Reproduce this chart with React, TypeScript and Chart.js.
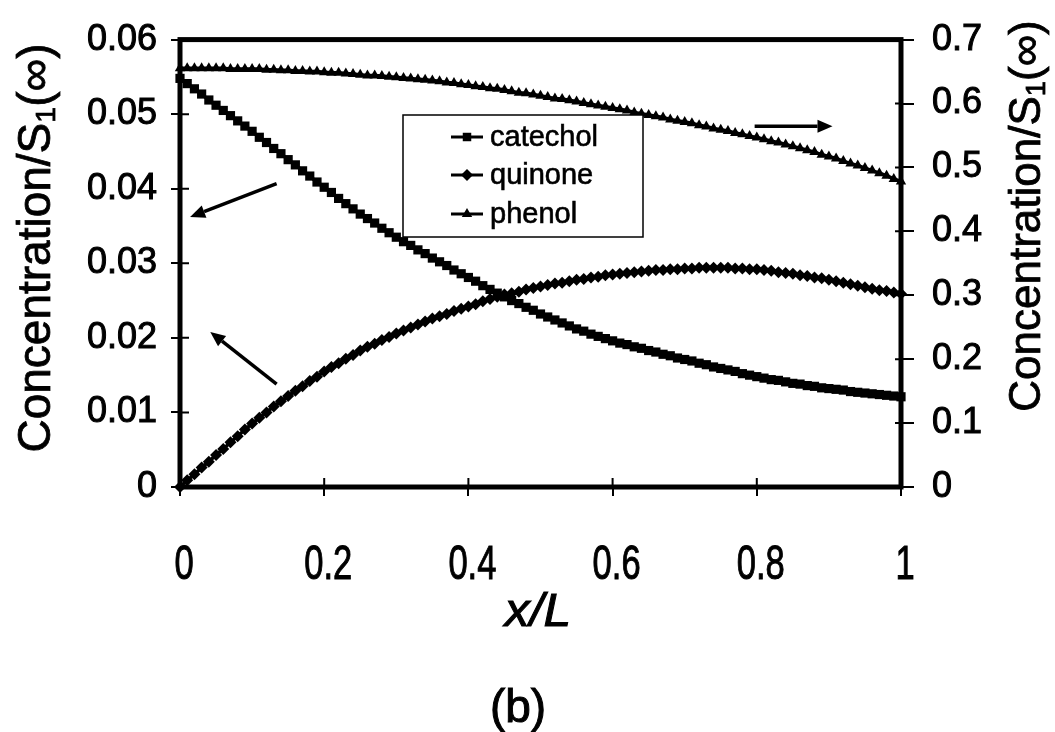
import React, { useEffect, useRef } from "react";
import { Chart, registerables } from "chart.js";

Chart.register(...registerables);

const xs = [
  0, 0.01, 0.02, 0.03, 0.04, 0.05, 0.06, 0.07, 0.08, 0.09,
  0.1, 0.11, 0.12, 0.13, 0.14, 0.15, 0.16, 0.17, 0.18, 0.19,
  0.2, 0.21, 0.22, 0.23, 0.24, 0.25, 0.26, 0.27, 0.28, 0.29,
  0.3, 0.31, 0.32, 0.33, 0.34, 0.35, 0.36, 0.37, 0.38, 0.39,
  0.4, 0.41, 0.42, 0.43, 0.44, 0.45, 0.46, 0.47, 0.48, 0.49,
  0.5, 0.51, 0.52, 0.53, 0.54, 0.55, 0.56, 0.57, 0.58, 0.59,
  0.6, 0.61, 0.62, 0.63, 0.64, 0.65, 0.66, 0.67, 0.68, 0.69,
  0.7, 0.71, 0.72, 0.73, 0.74, 0.75, 0.76, 0.77, 0.78, 0.79,
  0.8, 0.81, 0.82, 0.83, 0.84, 0.85, 0.86, 0.87, 0.88, 0.89,
  0.9, 0.91, 0.92, 0.93, 0.94, 0.95, 0.96, 0.97, 0.98, 0.99,
  1.0,
];

const catechol = [
  0.0548, 0.0541, 0.0534, 0.0527, 0.0519, 0.0512, 0.0505, 0.0498, 0.0491, 0.0484,
  0.0477, 0.0469, 0.0462, 0.0454, 0.0447, 0.0439, 0.0432, 0.0424, 0.0417, 0.0409,
  0.0402, 0.0395, 0.0387, 0.038, 0.0373, 0.0366, 0.036, 0.0354, 0.0347, 0.0341,
  0.0335, 0.0329, 0.0324, 0.0318, 0.0313, 0.0307, 0.0302, 0.0297, 0.0291, 0.0286,
  0.0281, 0.0276, 0.027, 0.0265, 0.026, 0.0255, 0.025, 0.0246, 0.0241, 0.0237,
  0.0232, 0.0228, 0.0224, 0.022, 0.0216, 0.0212, 0.0209, 0.0205, 0.0202, 0.0199,
  0.0196, 0.0193, 0.0191, 0.0188, 0.0186, 0.0183, 0.0181, 0.0178, 0.0176, 0.0173,
  0.0171, 0.0169, 0.0166, 0.0164, 0.0161, 0.0159, 0.0157, 0.0155, 0.0152, 0.015,
  0.0148, 0.0146, 0.0144, 0.0143, 0.0141, 0.0139, 0.0138, 0.0136, 0.0135, 0.0133,
  0.0132, 0.0131, 0.013, 0.0128, 0.0127, 0.0126, 0.0125, 0.0124, 0.0123, 0.0122,
  0.0121,
];

const quinone = [
  0, 0.0009, 0.0017, 0.0026, 0.0034, 0.0043, 0.0051, 0.006, 0.0068, 0.0077,
  0.0085, 0.0093, 0.01, 0.0108, 0.0115, 0.0122, 0.0129, 0.0135, 0.0142, 0.0148,
  0.0155, 0.0161, 0.0166, 0.0172, 0.0177, 0.0183, 0.0188, 0.0192, 0.0197, 0.0201,
  0.0206, 0.021, 0.0214, 0.0218, 0.0222, 0.0226, 0.0229, 0.0232, 0.0236, 0.0239,
  0.0242, 0.0245, 0.0249, 0.0252, 0.0255, 0.0258, 0.026, 0.0262, 0.0265, 0.0267,
  0.0269, 0.0271, 0.0273, 0.0274, 0.0276, 0.0278, 0.0279, 0.0281, 0.0282, 0.0284,
  0.0285, 0.0286, 0.0287, 0.0288, 0.0289, 0.029, 0.0291, 0.0291, 0.0292, 0.0292,
  0.0293, 0.0293, 0.0294, 0.0294, 0.0294, 0.0294, 0.0294, 0.0293, 0.0293, 0.0292,
  0.0292, 0.0291, 0.029, 0.0288, 0.0287, 0.0286, 0.0284, 0.0283, 0.0281, 0.028,
  0.0278, 0.0276, 0.0274, 0.0272, 0.027, 0.0268, 0.0266, 0.0264, 0.0263, 0.0261,
  0.0259,
];

const phenol = [
  0.655, 0.655, 0.655, 0.655, 0.655, 0.655, 0.655, 0.654, 0.654, 0.654,
  0.654, 0.654, 0.653, 0.653, 0.652, 0.652, 0.651, 0.651, 0.65, 0.65,
  0.649, 0.648, 0.648, 0.647, 0.646, 0.645, 0.644, 0.644, 0.643, 0.642,
  0.641, 0.64, 0.639, 0.638, 0.637, 0.636, 0.635, 0.633, 0.632, 0.63,
  0.629, 0.627, 0.626, 0.624, 0.623, 0.621, 0.619, 0.617, 0.616, 0.614,
  0.612, 0.61, 0.608, 0.607, 0.605, 0.603, 0.601, 0.599, 0.597, 0.595,
  0.593, 0.591, 0.589, 0.586, 0.584, 0.582, 0.58, 0.578, 0.575, 0.573,
  0.571, 0.569, 0.566, 0.564, 0.561, 0.559, 0.557, 0.554, 0.552, 0.549,
  0.547, 0.544, 0.541, 0.539, 0.536, 0.533, 0.53, 0.527, 0.524, 0.52,
  0.517, 0.514, 0.51, 0.506, 0.503, 0.499, 0.495, 0.491, 0.487, 0.482,
  0.478,
];

const seriesLabels = ["catechol", "quinone", "phenol"];
const xTickStep = 0.2;
const leftTickStep = 0.01;
const rightTickStep = 0.1;

// annotation arrows in data coordinates: [x0, y0, x1, y1, axis]
const arrows: [number, number, number, number, string][] = [
  [0.134, 0.0407, 0.014, 0.0362, "y"],
  [0.134, 0.0138, 0.042, 0.0208, "y"],
  [0.797, 0.5646, 0.905, 0.5646, "y1"],
];

const FONT = "'Liberation Sans', Arial, sans-serif";

function drawTitleRotated(ctx: CanvasRenderingContext2D, cx: number, cy: number, size: number) {
  const runs = [
    { t: "Concentration/S", s: size, dy: 0 },
    { t: "1", s: size * 0.62, dy: size * 0.22 },
    { t: "(\u221E)", s: size, dy: 0 },
  ];
  ctx.save();
  ctx.translate(cx, cy);
  ctx.rotate(-Math.PI / 2);
  ctx.fillStyle = "#000";
  ctx.textBaseline = "middle";
  ctx.textAlign = "left";
  let total = 0;
  for (const r of runs) {
    ctx.font = `${r.s}px ${FONT}`;
    total += ctx.measureText(r.t).width;
  }
  let x = -total / 2;
  for (const r of runs) {
    ctx.font = `${r.s}px ${FONT}`;
    ctx.fillText(r.t, x, r.dy);
    ctx.strokeStyle = "#000";
    ctx.lineWidth = 0.8;
    ctx.strokeText(r.t, x, r.dy);
    x += ctx.measureText(r.t).width;
  }
  ctx.restore();
}

function drawMarker(ctx: CanvasRenderingContext2D, style: string, x: number, y: number, r: number) {
  ctx.beginPath();
  if (style === "rect") {
    const s = r * Math.SQRT1_2;
    ctx.rect(x - s, y - s, 2 * s, 2 * s);
  } else if (style === "rectRot") {
    ctx.moveTo(x, y - r);
    ctx.lineTo(x + r, y);
    ctx.lineTo(x, y + r);
    ctx.lineTo(x - r, y);
    ctx.closePath();
  } else {
    ctx.moveTo(x, y - r);
    ctx.lineTo(x + r * 0.866, y + r * 0.5);
    ctx.lineTo(x - r * 0.866, y + r * 0.5);
    ctx.closePath();
  }
  ctx.fill();
}

const decorPlugin = {
  id: "decor",
  beforeDatasetsDraw(chart: any) {
    const { ctx, chartArea } = chart;
    const sx = chart.scales.x;
    const yl = chart.scales.y;
    const yr = chart.scales.y1;
    ctx.save();
    ctx.strokeStyle = "#000";
    ctx.lineWidth = 2;
    ctx.beginPath();
    sx.ticks.forEach((t: any) => {
      const px = sx.getPixelForValue(t.value);
      ctx.moveTo(px, chartArea.bottom);
      ctx.lineTo(px, chartArea.bottom - 9);
    });
    yl.ticks.forEach((t: any) => {
      const py = yl.getPixelForValue(t.value);
      ctx.moveTo(chartArea.left, py);
      ctx.lineTo(chartArea.left + 9, py);
    });
    yr.ticks.forEach((t: any) => {
      const py = yr.getPixelForValue(t.value);
      ctx.moveTo(chartArea.right, py);
      ctx.lineTo(chartArea.right - 6, py);
    });
    ctx.stroke();
    ctx.lineWidth = 5;
    ctx.strokeRect(chartArea.left, chartArea.top, chartArea.right - chartArea.left, chartArea.bottom - chartArea.top);
    ctx.lineWidth = 3.5;
    ctx.fillStyle = "#000";
    arrows.forEach(([x0, y0, x1, y1, ax]) => {
      const sy = chart.scales[ax];
      const p0x = sx.getPixelForValue(x0);
      const p0y = sy.getPixelForValue(y0);
      const p1x = sx.getPixelForValue(x1);
      const p1y = sy.getPixelForValue(y1);
      const ang = Math.atan2(p1y - p0y, p1x - p0x);
      const hl = 15;
      const hw = 6.5;
      const bx = p1x - hl * Math.cos(ang);
      const by = p1y - hl * Math.sin(ang);
      ctx.beginPath();
      ctx.moveTo(p0x, p0y);
      ctx.lineTo(bx, by);
      ctx.stroke();
      ctx.beginPath();
      ctx.moveTo(p1x, p1y);
      ctx.lineTo(bx + hw * Math.sin(ang), by - hw * Math.cos(ang));
      ctx.lineTo(bx - hw * Math.sin(ang), by + hw * Math.cos(ang));
      ctx.closePath();
      ctx.fill();
    });
    ctx.restore();
  },
  afterDraw(chart: any) {
    const { ctx } = chart;
    const sx = chart.scales.x;
    ctx.save();
    ctx.fillStyle = "#000";
    ctx.strokeStyle = "#000";
    ctx.lineWidth = 1;
    // condensed x tick labels, taken from the x scale's ticks
    ctx.font = `48px ${FONT}`;
    ctx.textAlign = "center";
    ctx.textBaseline = "middle";
    sx.ticks.forEach((t: any) => {
      const px = sx.getPixelForValue(t.value) + 4;
      ctx.save();
      ctx.translate(px, 566);
      ctx.scale(0.72, 1);
      ctx.fillText(String(t.label), 0, 0);
      ctx.strokeText(String(t.label), 0, 0);
      ctx.restore();
    });
    drawTitleRotated(ctx, 37, 248, 46);
    drawTitleRotated(ctx, 1028, 216, 44);
    ctx.fillStyle = "#000";
    ctx.textAlign = "center";
    ctx.textBaseline = "middle";
    ctx.save();
    ctx.translate(538, 613);
    ctx.scale(1.08, 1);
    ctx.font = `italic 46px ${FONT}`;
    ctx.fillText("x/L", 0, 0);
    ctx.strokeText("x/L", 0, 0);
    ctx.restore();
    ctx.font = `46px ${FONT}`;
    ctx.fillText("(b)", 518, 709);
    ctx.strokeText("(b)", 518, 709);
    // legend
    const bx = 403, by = 115, bw = 240, bh = 122;
    ctx.lineWidth = 1.5;
    ctx.strokeStyle = "#000";
    ctx.fillStyle = "#fff";
    ctx.fillRect(bx, by, bw, bh);
    ctx.strokeRect(bx, by, bw, bh);
    const rows = [137, 175, 214];
    chart.data.datasets.forEach((ds: any, i: number) => {
      const y = rows[i];
      ctx.strokeStyle = "#000";
      ctx.lineWidth = 3;
      ctx.beginPath();
      ctx.moveTo(451, y);
      ctx.lineTo(483, y);
      ctx.stroke();
      ctx.fillStyle = "#000";
      drawMarker(ctx, ds.pointStyle, 467, y, 6);
      ctx.font = `29px ${FONT}`;
      ctx.textAlign = "left";
      ctx.textBaseline = "middle";
      ctx.lineWidth = 0.6;
      ctx.fillText(ds.label, 490, y + 1);
      ctx.strokeText(ds.label, 490, y + 1);
    });
    ctx.restore();
  },
};

export default function App() {
  const ref = useRef<HTMLCanvasElement | null>(null);
  useEffect(() => {
    if (!ref.current) return;
    const mk = (vals: number[]) => vals.map((v, i) => ({ x: xs[i], y: v }));
    const common = {
      borderColor: "#000",
      backgroundColor: "#000",
      pointBackgroundColor: "#000",
      pointBorderColor: "#000",
      borderWidth: 3.5,
      pointRadius: 6,
      pointBorderWidth: 0,
      tension: 0,
      clip: false as any,
    };
    const chart = new Chart(ref.current, {
      type: "line",
      data: {
        datasets: [
          { ...common, label: seriesLabels[0], data: mk(catechol), pointStyle: "rect", pointRadius: 6.5, yAxisID: "y" },
          { ...common, label: seriesLabels[1], data: mk(quinone), pointStyle: "rectRot", yAxisID: "y" },
          { ...common, label: seriesLabels[2], data: mk(phenol), pointStyle: "triangle", yAxisID: "y1" },
        ],
      },
      options: {
        animation: false,
        responsive: false,
        layout: { padding: { top: 30, left: 0, right: 0, bottom: 0 } },
        plugins: { legend: { display: false }, tooltip: { enabled: false } },
        scales: {
          x: {
            type: "linear",
            min: 0,
            max: 1,
            border: { display: false },
            grid: { drawOnChartArea: false, drawTicks: true, tickLength: 9, color: "#000", lineWidth: 2 },
            ticks: {
              stepSize: xTickStep,
              display: false,
              callback: (v: any) => String(Math.round(Number(v) * 10) / 10),
            },
            afterFit: (s: any) => { s.height = 245; },
          },
          y: {
            type: "linear",
            position: "left",
            min: 0,
            max: 0.06,
            border: { display: false },
            grid: { drawOnChartArea: false, drawTicks: true, tickLength: 9, color: "#000", lineWidth: 2 },
            ticks: {
              stepSize: leftTickStep,
              color: "#000",
              padding: 14,
              font: { family: FONT, size: 36 },
              textStrokeColor: "#000",
              textStrokeWidth: 1,
              callback: (v: any) => String(Number(Number(v).toFixed(2))),
            } as any,
            afterFit: (s: any) => { s.width = 180; },
          },
          y1: {
            type: "linear",
            position: "right",
            min: 0,
            max: 0.7,
            border: { display: false },
            grid: { drawOnChartArea: false, drawTicks: true, tickLength: 13, color: "#000", lineWidth: 2 },
            ticks: {
              stepSize: rightTickStep,
              color: "#000",
              padding: 18,
              font: { family: FONT, size: 36 },
              textStrokeColor: "#000",
              textStrokeWidth: 1,
              callback: (v: any) => String(Number(Number(v).toFixed(1))),
            } as any,
            afterFit: (s: any) => { s.width = 154; },
          },
        },
      },
      plugins: [decorPlugin],
    });
    return () => chart.destroy();
  }, []);
  return (
    <div style={{ position: "fixed", left: 0, top: 0, width: 1055, height: 732, background: "#fff" }}>
      <canvas ref={ref} width={1055} height={732} />
    </div>
  );
}
